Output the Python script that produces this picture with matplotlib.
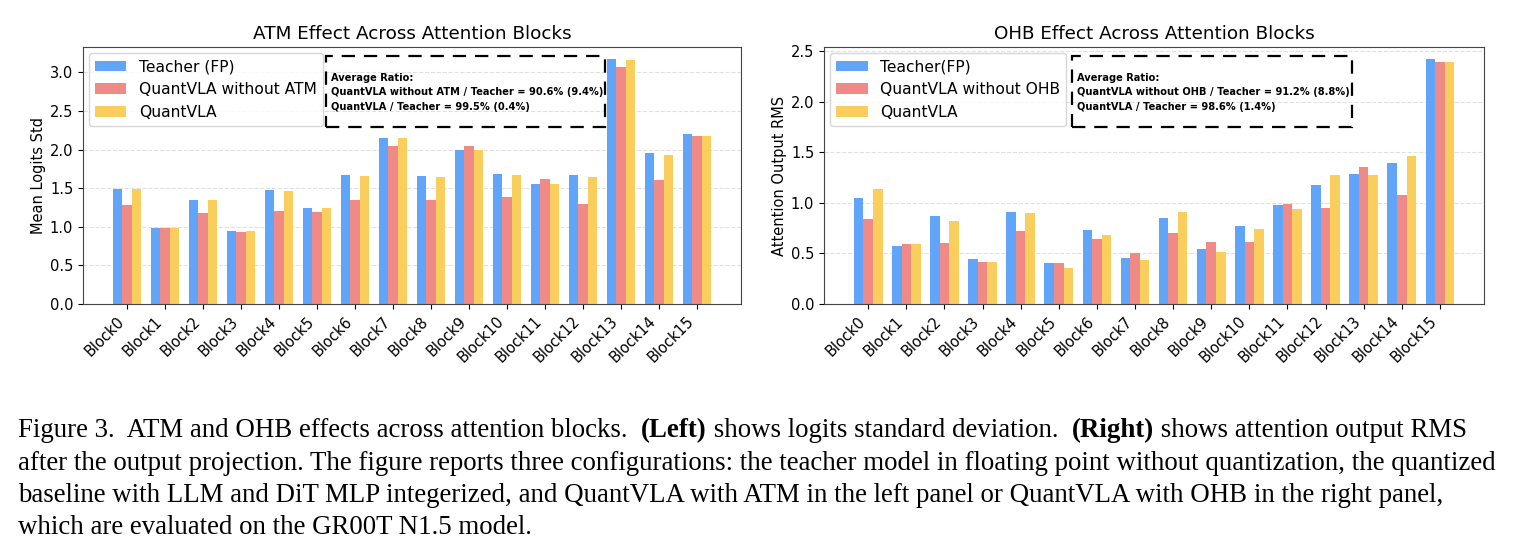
import matplotlib.pyplot as plt
from matplotlib.patches import Rectangle
import numpy as np

blocks = ['Block0', 'Block1', 'Block2', 'Block3', 'Block4', 'Block5', 'Block6', 'Block7',
          'Block8', 'Block9', 'Block10', 'Block11', 'Block12', 'Block13', 'Block14', 'Block15']

# left panel: mean logits std
atm_teacher = [1.49, 0.99, 1.35, 0.94, 1.48, 1.25, 1.67, 2.15, 1.66, 2.00, 1.69, 1.55, 1.67, 3.17, 1.95, 2.20]
atm_without = [1.28, 0.98, 1.18, 0.93, 1.21, 1.19, 1.35, 2.05, 1.35, 2.04, 1.38, 1.62, 1.30, 3.07, 1.61, 2.18]
atm_quant = [1.49, 0.99, 1.35, 0.94, 1.47, 1.24, 1.66, 2.15, 1.65, 1.99, 1.67, 1.55, 1.64, 3.16, 1.93, 2.18]

# right panel: attention output rms
ohb_teacher = [1.05, 0.57, 0.87, 0.45, 0.91, 0.41, 0.73, 0.46, 0.85, 0.54, 0.77, 0.98, 1.18, 1.29, 1.39, 2.42]
ohb_without = [0.84, 0.59, 0.60, 0.42, 0.72, 0.41, 0.64, 0.50, 0.70, 0.61, 0.61, 0.99, 0.95, 1.35, 1.08, 2.39]
ohb_quant = [1.14, 0.59, 0.82, 0.42, 0.90, 0.36, 0.68, 0.44, 0.91, 0.51, 0.74, 0.94, 1.28, 1.28, 1.46, 2.39]

colors = ['#60a5fa', '#f08a86', '#f9ce5c']

f = plt.figure(figsize=(15.16, 5.59), dpi=100)
ax = [f.add_axes([0.0547, 0.456, 0.4341, 0.46]),
      f.add_axes([0.5435, 0.456, 0.4355, 0.46])]

panels = [
  ('ATM Effect Across Attention Blocks', 'Mean Logits Std',
   [atm_teacher, atm_without, atm_quant],
   ['Teacher (FP)', 'QuantVLA without ATM', 'QuantVLA'],
   'Average Ratio:\nQuantVLA without ATM / Teacher = 90.6% (9.4%)\nQuantVLA / Teacher = 99.5% (0.4%)',
   0.369, 0.793),
  ('OHB Effect Across Attention Blocks', 'Attention Output RMS',
   [ohb_teacher, ohb_without, ohb_quant],
   ['Teacher(FP)', 'QuantVLA without OHB', 'QuantVLA'],
   'Average Ratio:\nQuantVLA without OHB / Teacher = 91.2% (8.8%)\nQuantVLA / Teacher = 98.6% (1.4%)',
   0.376, 0.800),
]

x = np.arange(len(blocks))
w = 0.25
for ii, (title, ylab, series, labels, note, bx0, bx1) in enumerate(panels):
  a = ax[ii]
  for jj in range(3):
    a.bar(x + (jj - 1) * w, series[jj], w, color=colors[jj], label=labels[jj])
  a.set_xticks(x)
  a.set_xticklabels(blocks, rotation=45, ha='right', fontsize=10.5)
  a.tick_params(axis='y', labelsize=10.5)
  a.set_ylabel(ylab, fontsize=10.5, labelpad=3)
  a.set_title(title, fontsize=13.2)
  a.set_axisbelow(True)
  a.yaxis.grid(ls='--', color='#cccccc', alpha=0.6)
  for s in a.spines.values():
    s.set_color('#444444')
  a.legend(loc='upper left', fontsize=11.2, bbox_to_anchor=(0.0, 1.0), borderaxespad=0.4)
  # dashed note box next to the legend
  a.add_patch(Rectangle((bx0, 0.689), bx1 - bx0, 0.965 - 0.689, transform=a.transAxes,
                        fill=False, ec='k', lw=1.6, ls=(0, (6, 4)), zorder=5))
  a.text(bx0 + 0.008, 0.9, note, transform=a.transAxes, fontsize=7.1, weight='bold',
         va='top', ha='left', linespacing=1.6, zorder=6)

# caption
cap = plt.axes([0, 0, 1, 1]); cap.axis('off')
serif = 'Liberation Serif'
line1 = [('Figure 3.  ATM and OHB effects across attention blocks.  ', 'normal'),
         ('(Left)', 'bold'),
         (' shows logits standard deviation.  ', 'normal'),
         ('(Right)', 'bold'),
         (' shows attention output RMS', 'normal')]
lines = ['after the output projection. The figure reports three configurations: the teacher model in floating point without quantization, the quantized',
         'baseline with LLM and DiT MLP integerized, and QuantVLA with ATM in the left panel or QuantVLA with OHB in the right panel,',
         'which are evaluated on the GR00T N1.5 model.']

# pick font size so the full-width caption lines span the page like the original
probe = cap.text(0, 0, lines[0], family=serif, fontsize=10)
r = f.canvas.get_renderer()
fs = 10 * 1482 / probe.get_window_extent(r).width
probe.remove()

prev = cap.text(18 / 1516, 1 - 437 / 559, line1[0][0], family=serif, fontsize=fs, va='baseline')
for txt, wt in line1[1:]:
  prev = cap.annotate(txt, xy=(1, 0), xycoords=prev, family=serif, fontsize=fs,
                      weight=wt, va='bottom', ha='left', annotation_clip=False)
for kk, ln in enumerate(lines):
  cap.text(18 / 1516, 1 - (469.5 + kk * 32.5) / 559, ln, family=serif, fontsize=fs, va='baseline')

plt.savefig('out.png', dpi=100)
